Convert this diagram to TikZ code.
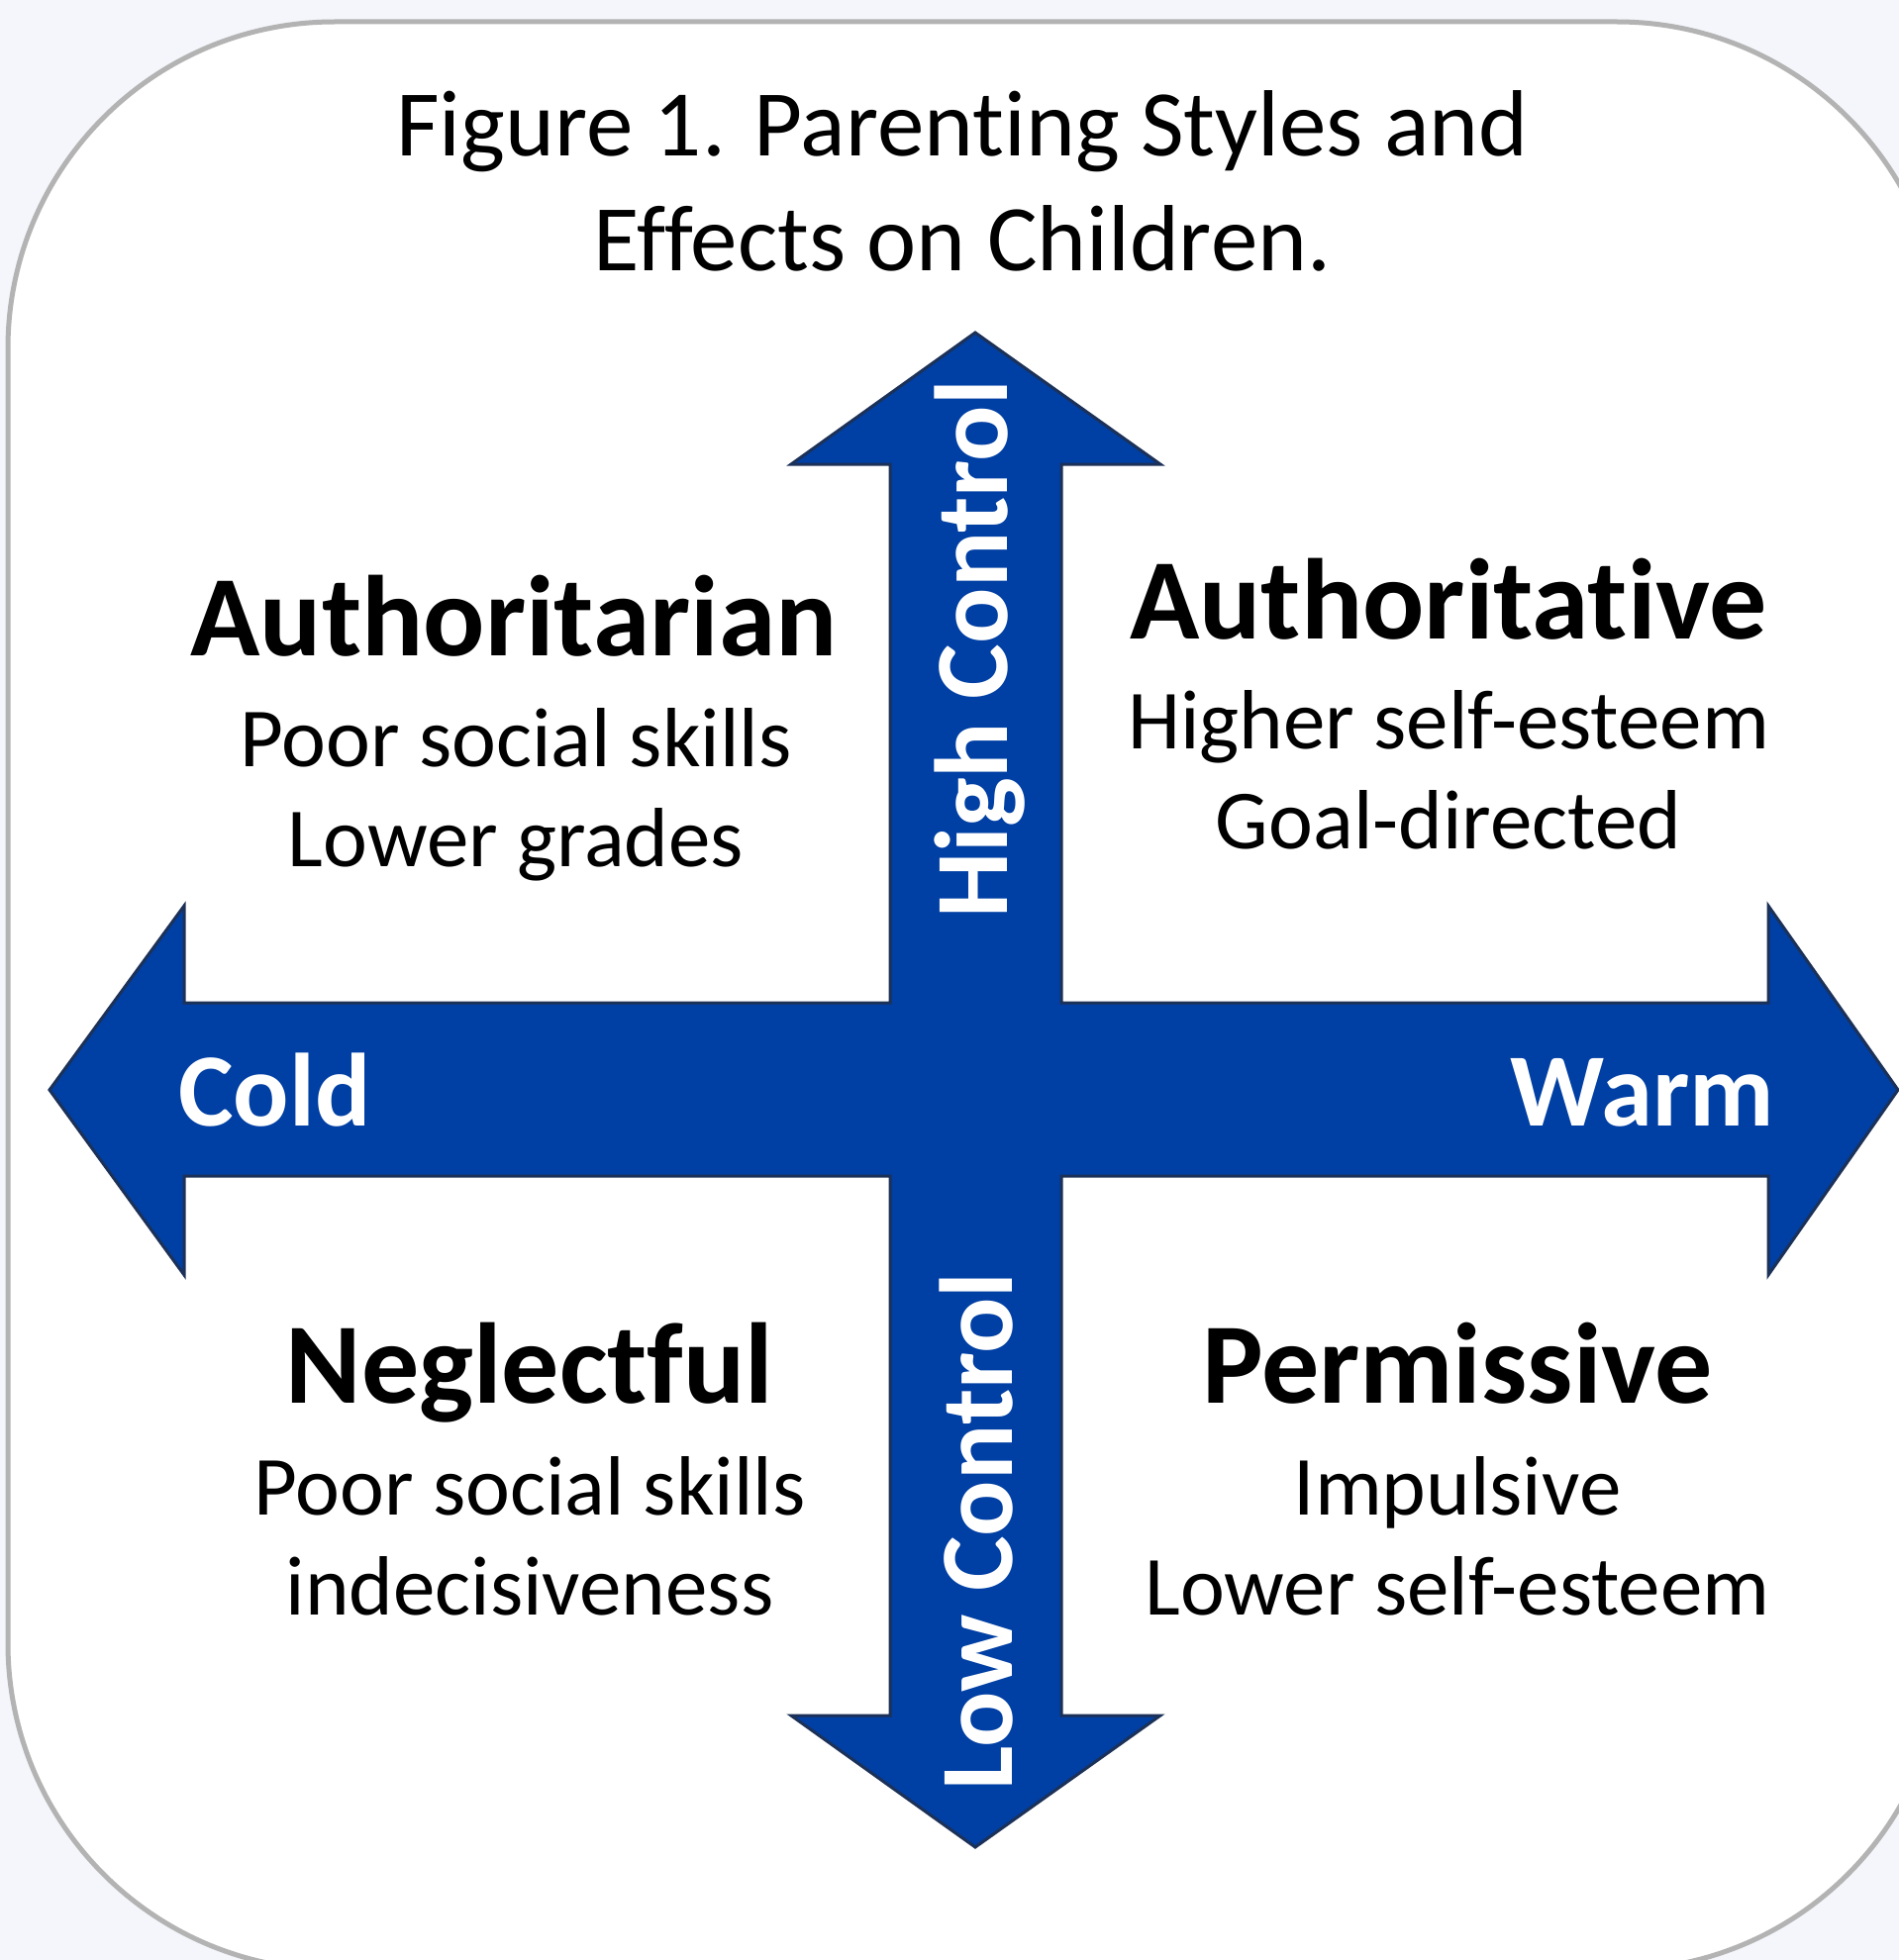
\documentclass[tikz,border=0pt]{standalone}
\usepackage{fontspec}
\setmainfont{Carlito}[Ligatures=NoCommon]
\definecolor{pagebg}{HTML}{F4F6FB}
\definecolor{frame}{HTML}{B3B3B3}
\definecolor{crossblue}{HTML}{003FA3}
\definecolor{crossline}{HTML}{1C3158}

\begin{document}
\begin{tikzpicture}
	 [x=1pt,y=-1pt,every node/.style={inner sep=0pt,anchor=base},
	  heading/.style={font=\fontsize{95}{114}\selectfont},
	  stylename/.style={font=\bfseries\fontsize{116}{130}\selectfont},
	  effect/.style={font=\fontsize{85}{100}\selectfont},
	  axislabel/.style={font=\bfseries\fontsize{105}{120}\selectfont,text=white}]
	\clip (0,0) rectangle (1918,1980);
	\fill[pagebg] (0,0) rectangle (1918,1980);
	\draw[frame,fill=white,line width=5pt,rounded corners=330pt] (8,22) rectangle (1963,1990);

	% the four-way arrow
	\draw[crossline,fill=crossblue,line width=3pt,line join=miter]
	  (985,336) -- (1172,469) -- (1072,469) -- (1072,1013) -- (1786,1013) -- (1786,915)
	  -- (1917,1101) -- (1786,1288) -- (1786,1188) -- (1072,1188) -- (1072,1733)
	  -- (1172,1733) -- (985,1866) -- (799,1733) -- (899,1733) -- (899,1188)
	  -- (186,1188) -- (186,1288) -- (50,1101) -- (186,915) -- (186,1013)
	  -- (899,1013) -- (899,469) -- (799,469) -- cycle;

	\node[heading] (t1) at (972,158) {Figure 1. Parenting Styles and};
	\node[heading] (t2) at (972,273) {Effects on Children.};

	\node[axislabel,anchor=base west] (cold) at (180,1137) {Cold};
	\node[axislabel,anchor=base east] (warm) at (1792,1137) {Warm};
	\node[axislabel,rotate=90] (high) at (1017,656) {High Control};
	\node[axislabel,rotate=90] (low) at (1022,1547) {Low Control};

	\node[stylename] (an) at (519,662) {Authoritarian};
	\node[stylename] (av) at (1463,645) {Authoritative};
	\node[stylename] (ne) at (535,1417) {Neglectful};
	\node[stylename] (pe) at (1472,1417) {Permissive};

	\foreach \name/\x/\y/\txt in {an1/521/774/Poor social skills,an2/521/875/Lower grades,
	    av1/1463/756/Higher self-esteem,av2/1463/857/Goal-directed,
	    ne1/535/1530/Poor social skills,ne2/535/1631/indecisiveness,
	    pe1/1472/1530/Impulsive,pe2/1472/1631/Lower self-esteem}
	  \node[effect] (\name) at (\x,\y) {\txt};

\end{tikzpicture}
\end{document}
